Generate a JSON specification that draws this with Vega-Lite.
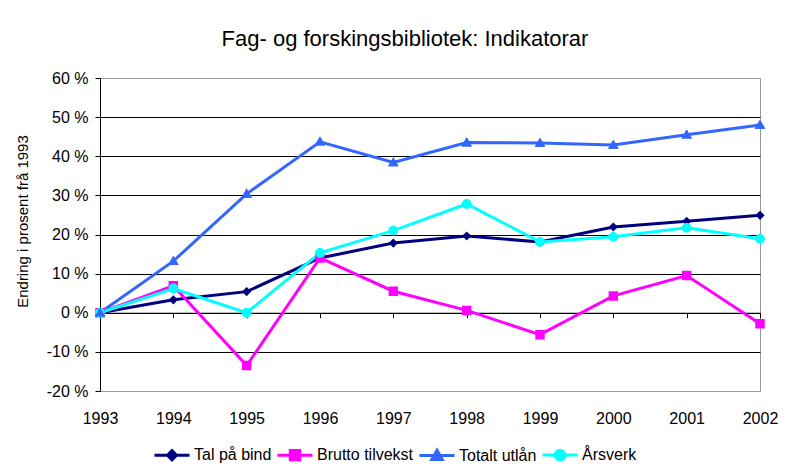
{
  "$schema": "https://vega.github.io/schema/vega-lite/v6.json",
  "width": 660,
  "height": 313,
  "autosize": {"type": "none"},
  "padding": {"left": 100, "top": 78, "right": 39, "bottom": 79},
  "background": "white",
  "config": {
    "font": "Liberation Sans",
    "view": {"stroke": "#999999", "strokeWidth": 1},
    "axis": {"labelFontSize": 16, "titleFontSize": 15, "labelColor": "black", "titleColor": "black", "titleFontWeight": "normal", "labelOverlap": false, "labelFlush": false}
  },
  "title": {
    "text": "Fag- og forskingsbibliotek: Indikatorar",
    "fontSize": 22,
    "fontWeight": "normal",
    "color": "black",
    "frame": "group",
    "anchor": "middle",
    "dx": -25,
    "offset": 19
  },
  "data": {
    "values": [
      {"year": 1993, "series": "Tal på bind", "value": 0},
      {"year": 1994, "series": "Tal på bind", "value": 3.3},
      {"year": 1995, "series": "Tal på bind", "value": 5.4},
      {"year": 1996, "series": "Tal på bind", "value": 14.0},
      {"year": 1997, "series": "Tal på bind", "value": 17.8},
      {"year": 1998, "series": "Tal på bind", "value": 19.6},
      {"year": 1999, "series": "Tal på bind", "value": 18.1},
      {"year": 2000, "series": "Tal på bind", "value": 21.9},
      {"year": 2001, "series": "Tal på bind", "value": 23.4},
      {"year": 2002, "series": "Tal på bind", "value": 24.9},
      {"year": 1993, "series": "Brutto tilvekst", "value": 0},
      {"year": 1994, "series": "Brutto tilvekst", "value": 6.9},
      {"year": 1995, "series": "Brutto tilvekst", "value": -13.5},
      {"year": 1996, "series": "Brutto tilvekst", "value": 14.0},
      {"year": 1997, "series": "Brutto tilvekst", "value": 5.5},
      {"year": 1998, "series": "Brutto tilvekst", "value": 0.6},
      {"year": 1999, "series": "Brutto tilvekst", "value": -5.6},
      {"year": 2000, "series": "Brutto tilvekst", "value": 4.3},
      {"year": 2001, "series": "Brutto tilvekst", "value": 9.5},
      {"year": 2002, "series": "Brutto tilvekst", "value": -2.8},
      {"year": 1993, "series": "Totalt utlån", "value": 0},
      {"year": 1994, "series": "Totalt utlån", "value": 13.2},
      {"year": 1995, "series": "Totalt utlån", "value": 30.4},
      {"year": 1996, "series": "Totalt utlån", "value": 43.7},
      {"year": 1997, "series": "Totalt utlån", "value": 38.4},
      {"year": 1998, "series": "Totalt utlån", "value": 43.5},
      {"year": 1999, "series": "Totalt utlån", "value": 43.4},
      {"year": 2000, "series": "Totalt utlån", "value": 42.9},
      {"year": 2001, "series": "Totalt utlån", "value": 45.5},
      {"year": 2002, "series": "Totalt utlån", "value": 48.0},
      {"year": 1993, "series": "Årsverk", "value": 0},
      {"year": 1994, "series": "Årsverk", "value": 6.2},
      {"year": 1995, "series": "Årsverk", "value": 0},
      {"year": 1996, "series": "Årsverk", "value": 15.3},
      {"year": 1997, "series": "Årsverk", "value": 21.0},
      {"year": 1998, "series": "Årsverk", "value": 27.8},
      {"year": 1999, "series": "Årsverk", "value": 18.1},
      {"year": 2000, "series": "Årsverk", "value": 19.4},
      {"year": 2001, "series": "Årsverk", "value": 21.7},
      {"year": 2002, "series": "Årsverk", "value": 18.9}
    ]
  },
  "encoding": {
    "x": {
      "field": "year",
      "type": "quantitative",
      "scale": {"domain": [1993, 2002], "nice": false, "zero": false},
      "axis": null
    },
    "y": {
      "field": "value",
      "type": "quantitative",
      "scale": {"domain": [-20, 60], "nice": false},
      "axis": {
        "values": [-20, -10, 0, 10, 20, 30, 40, 50, 60],
        "labelExpr": "datum.value + ' %'",
        "title": "Endring i prosent frå 1993",
        "titleFontSize": 15,
        "titlePadding": 16,
        "titleY": 143,
        "labelFontSize": 16,
        "labelPadding": 7,
        "tickSize": 5,
        "tickColor": "black",
        "domainColor": "black",
        "grid": true,
        "gridColor": {"condition": {"test": "datum.value == 60 || datum.value == -20", "value": "#999999"}, "value": "black"}
      }
    },
    "color": {
      "field": "series",
      "type": "nominal",
      "scale": {
        "domain": ["Tal på bind", "Brutto tilvekst", "Totalt utlån", "Årsverk"],
        "range": ["#000080", "#ff00ff", "#3366ff", "#00ffff"]
      },
      "legend": {
        "title": null,
        "orient": "none",
        "legendX": 53,
        "legendY": 358,
        "direction": "horizontal",
        "columns": 4,
        "labelFontSize": 16,
        "labelColor": "black",
        "symbolSize": 1225,
        "symbolStrokeWidth": 3,
        "labelOffset": 3,
        "columnPadding": -1,
        "encode": {"symbols": {"update": {
          "stroke": {"scale": "color", "field": "value"},
          "fill": [{"test": "datum.value === 'Totalt utlån'", "value": "#0000ff"}, {"scale": "color", "field": "value"}],
          "strokeWidth": {"value": 3}}}}
      }
    }
  },
  "resolve": {"axis": {"x": "independent"}},
  "layer": [
    {
      "mark": {"type": "line", "strokeWidth": 3},
      "encoding": {
        "x": {
          "field": "year",
          "type": "quantitative",
          "axis": {
            "orient": "bottom",
            "values": [1993, 1994, 1995, 1996, 1997, 1998, 1999, 2000, 2001, 2002],
            "format": "d",
            "title": null,
            "domain": false,
            "ticks": false,
            "grid": false,
            "labelFontSize": 16,
            "labelPadding": 19
          }
        }
      }
    },
    {
      "mark": {"type": "point", "filled": true, "size": 1225, "strokeWidth": 0, "opacity": 1},
      "encoding": {
        "x": {
          "field": "year",
          "type": "quantitative",
          "axis": {
            "orient": "bottom",
            "offset": -78.25,
            "values": [1993, 1994, 1995, 1996, 1997, 1998, 1999, 2000, 2001, 2002],
            "title": null,
            "labels": false,
            "domain": true,
            "domainColor": "black",
            "domainWidth": 1,
            "ticks": true,
            "tickSize": 5,
            "tickColor": "black",
            "grid": false
          }
        },
        "shape": {
          "field": "series",
          "type": "nominal",
          "scale": {
            "domain": ["Tal på bind", "Brutto tilvekst", "Totalt utlån", "Årsverk"],
            "range": [
              "M-1,0H1M0,-0.26L0.26,0L0,0.26L-0.26,0Z",
              "M-1,0H1M-0.27,-0.27H0.27V0.27H-0.27Z",
              "M-1,0H1M0,-0.3L0.3,0.22L-0.3,0.22Z",
              "M-1,0H1M-0.28,0A0.28,0.28,0,1,1,0.28,0A0.28,0.28,0,1,1,-0.28,0Z"
            ]
          },
          "legend": {
            "title": null,
            "orient": "none",
            "legendX": 53,
            "legendY": 358,
            "direction": "horizontal",
            "columns": 4,
            "labelFontSize": 16,
            "labelColor": "black",
            "symbolSize": 1225,
            "symbolStrokeWidth": 3,
            "labelOffset": 3,
            "columnPadding": -1
          }
        }
      }
    },
    {
      "transform": [{"filter": "datum.series == 'Totalt utlån'"}],
      "mark": {"type": "point", "filled": true, "size": 1225, "strokeWidth": 0, "opacity": 1, "color": "#0000ff", "shape": "M0,-0.3L0.3,0.22L-0.3,0.22Z"}
    }
  ]
}
